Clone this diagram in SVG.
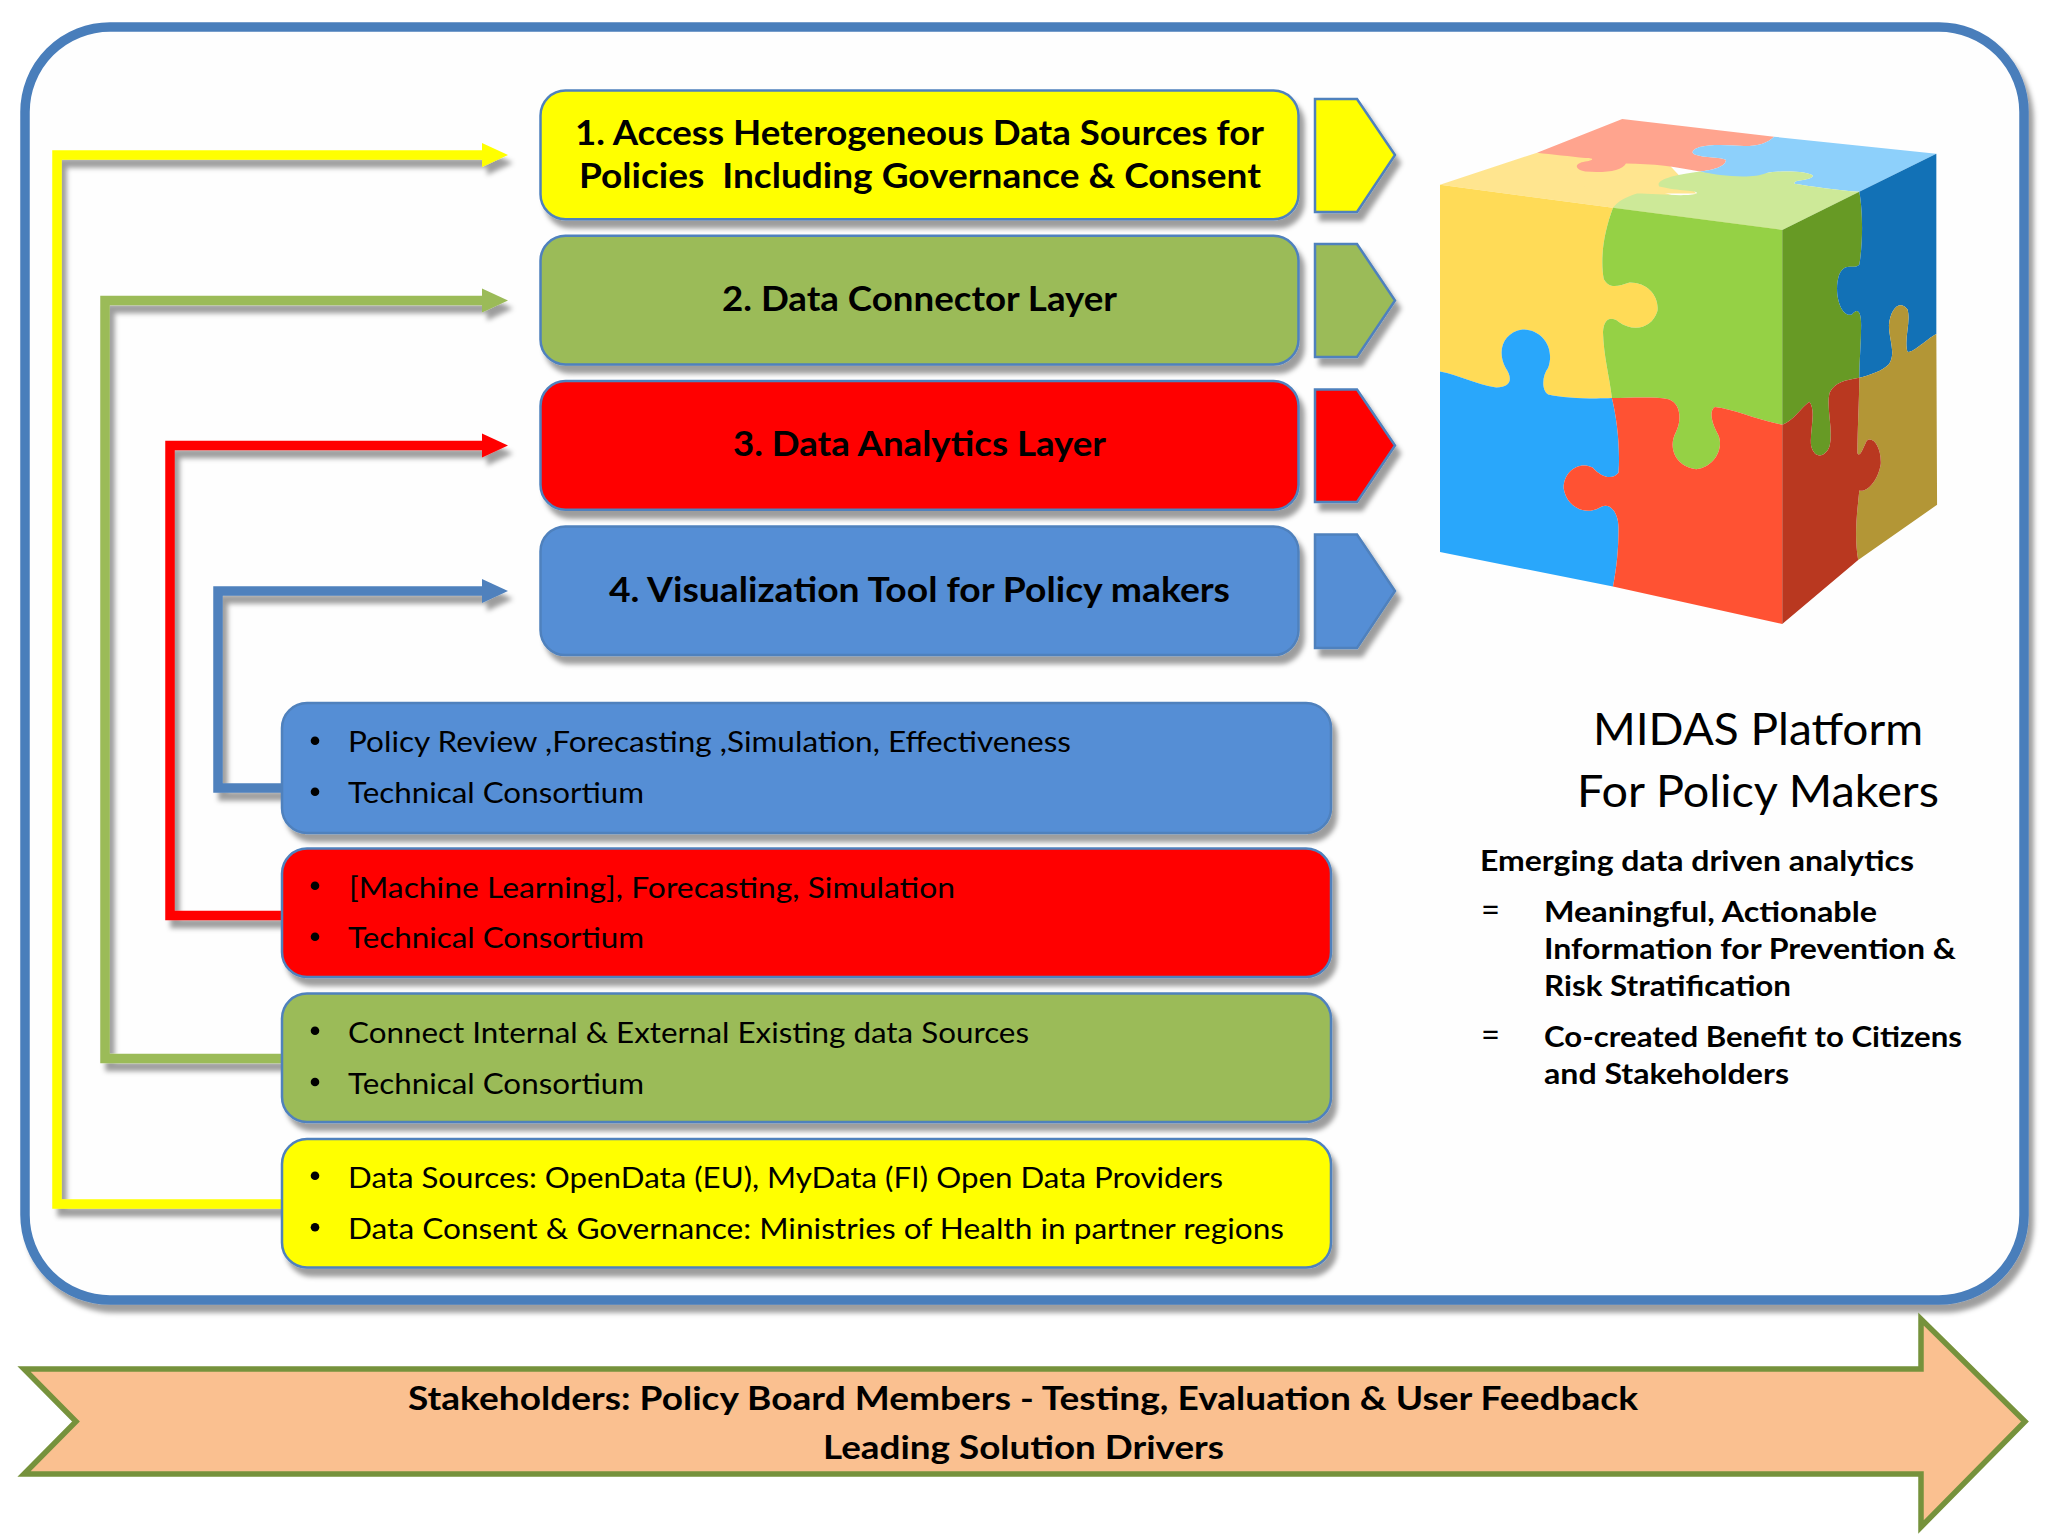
<svg xmlns="http://www.w3.org/2000/svg" width="2048" height="1536" viewBox="0 0 2048 1536">
<style>
text{font-family:"Lato","Carlito","Liberation Sans",sans-serif;fill:#000;white-space:pre}
.h{font-weight:700;font-size:34px}
.b{font-size:29px}
.r{font-weight:700;font-size:28px}
.e{font-size:34px}
.t{font-size:45px}
.s{font-weight:700;font-size:33px}
.box{stroke:#4f81bd;stroke-width:2.5;filter:url(#sh)}
.chev{stroke:#4f81bd;stroke-width:2.5;filter:url(#sh)}
.conn{fill:none;stroke-width:9.5;stroke-linejoin:miter;filter:url(#sh)}
.y{fill:#ffff00}.g{fill:#9bbb59}.rd{fill:#ff0000}.bl{fill:#558ed5}
</style>
<defs>
<filter id="sh" filterUnits="userSpaceOnUse" x="0" y="0" width="2048" height="1536"><feDropShadow dx="5" dy="8" stdDeviation="2.5" flood-color="#000" flood-opacity=".38"/></filter>
<marker id="ay" markerUnits="userSpaceOnUse" markerWidth="26" markerHeight="26" refX="0" refY="13" orient="auto"><path d="M0,1 L26,13 L0,25Z" fill="#ffff00"/></marker>
<marker id="ag" markerUnits="userSpaceOnUse" markerWidth="26" markerHeight="26" refX="0" refY="13" orient="auto"><path d="M0,1 L26,13 L0,25Z" fill="#9bbb59"/></marker>
<marker id="ar" markerUnits="userSpaceOnUse" markerWidth="26" markerHeight="26" refX="0" refY="13" orient="auto"><path d="M0,1 L26,13 L0,25Z" fill="#ff0000"/></marker>
<marker id="ab" markerUnits="userSpaceOnUse" markerWidth="26" markerHeight="26" refX="0" refY="13" orient="auto"><path d="M0,1 L26,13 L0,25Z" fill="#4f81bd"/></marker>
</defs>
<rect width="2048" height="1536" fill="#fff"/>
<g id="frame"><rect x="25" y="27" width="1999" height="1273" rx="85" fill="#fefefe" stroke="#4a7ebb" stroke-width="9.5" filter="url(#sh)"/></g>
<g id="connectors">
<path class="conn" stroke="#ffff00" marker-end="url(#ay)" d="M285,1204 H57 V155 H482"/>
<path class="conn" stroke="#9bbb59" marker-end="url(#ag)" d="M285,1058.5 H105 V300.5 H482"/>
<path class="conn" stroke="#ff0000" marker-end="url(#ar)" d="M285,915.5 H170 V445.5 H482"/>
<path class="conn" stroke="#4f81bd" marker-end="url(#ab)" d="M285,788 H218 V591 H482"/>
</g>
<g id="layer1"><rect class="box y" x="540.5" y="90.5" width="758" height="128.7" rx="25"/>
<text class="h" x="575" y="144.5" textLength="689" lengthAdjust="spacingAndGlyphs">1. Access Heterogeneous Data Sources for</text>
<text class="h" x="579" y="187.5" textLength="682" lengthAdjust="spacingAndGlyphs">Policies  Including Governance &amp; Consent</text></g>
<g id="layer2"><rect class="box g" x="540.5" y="235.8" width="758" height="128.7" rx="25"/>
<text class="h" x="722" y="311" textLength="395" lengthAdjust="spacingAndGlyphs">2. Data Connector Layer</text></g>
<g id="layer3"><rect class="box rd" x="540.5" y="381" width="758" height="128.7" rx="25"/>
<text class="h" x="733" y="456" textLength="373" lengthAdjust="spacingAndGlyphs">3. Data Analytics Layer</text></g>
<g id="layer4"><rect class="box bl" x="540.5" y="526.4" width="758" height="128.7" rx="25"/>
<text class="h" x="609" y="601.5" textLength="621" lengthAdjust="spacingAndGlyphs">4. Visualization Tool for Policy makers</text></g>
<g id="chevron1"><path class="chev y" d="M1315,99 H1357 L1395,155 L1357,212 H1315Z"/></g>
<g id="chevron2"><path class="chev g" d="M1315,244 H1357 L1395,300.5 L1357,357 H1315Z"/></g>
<g id="chevron3"><path class="chev rd" d="M1315,389.5 H1357 L1395,445.5 L1357,502 H1315Z"/></g>
<g id="chevron4"><path class="chev bl" d="M1315,534.5 H1357 L1395,591 L1357,648 H1315Z"/></g>
<g id="cube" transform="translate(1400 90.5) scale(.3704 .3556)">
<path fill="#ffe58f" d="M108,265 L370,175 L1032,392 L575,330Z"/>
<path fill="#ffe58f" d="M370,175 L700,180 L800,290 L640,290 L575,330Z"/>
<path fill="#ffa48e" d="M370,175 L600,80 L1010,130 C990,150 960,160 900,155 C850,150 790,155 790,175 C800,190 860,185 880,195 C880,215 840,225 810,228 C750,215 680,205 610,205 C600,225 560,232 500,228 C470,222 470,205 500,200 C530,195 520,190 500,190 C460,185 410,180 370,175Z"/>
<path fill="#8dd0fb" d="M1010,130 L1448,178 L1240,285 C1180,280 1110,270 1065,262 C1060,250 1110,255 1115,240 C1105,225 1020,225 990,232 C980,250 950,250 900,245 C860,240 830,235 810,228 C840,225 880,215 880,195 C860,185 800,190 790,175 C790,155 850,150 900,155 C960,160 990,150 1010,130Z"/>
<path fill="#cde998" d="M575,330 C590,310 610,300 640,290 C680,290 780,300 800,290 C810,280 760,285 700,270 C690,255 720,240 810,228 C860,240 950,250 990,232 C1020,225 1105,225 1115,240 C1110,255 1060,250 1065,262 C1110,270 1180,280 1240,285 L1032,392Z"/>
<path fill="#ffdb57" d="M108,265 L575,330 C550,400 540,470 550,530 C565,560 590,550 620,540 C670,540 700,580 695,620 C680,670 630,680 590,650 C570,635 550,640 548,680 C550,750 565,800 572,865 C520,868 440,865 400,855 C380,840 385,800 400,780 C420,720 380,670 330,672 C280,680 260,730 285,780 C305,810 300,835 260,835 C200,825 160,800 108,790Z"/>
<path fill="#29a7fb" d="M108,790 C160,800 200,825 260,835 C300,835 305,810 285,780 C260,730 280,680 330,672 C380,670 420,720 400,780 C385,800 380,840 400,855 C440,865 520,868 572,865 C585,920 595,1000 590,1075 C575,1095 545,1090 520,1060 C480,1040 440,1075 442,1120 C450,1170 500,1200 545,1170 C570,1160 590,1190 590,1230 C590,1290 585,1340 575,1395 L108,1298Z"/>
<path fill="#95d145" d="M575,330 L1032,392 L1032,940 C960,925 900,895 850,890 C835,900 840,930 855,960 C880,1000 850,1060 800,1065 C750,1060 720,1010 745,960 C760,930 760,880 725,868 C680,860 620,865 572,865 C565,800 550,750 548,680 C550,640 570,635 590,650 C630,680 680,670 695,620 C700,580 670,540 620,540 C590,550 565,560 550,530 C540,470 550,400 575,330Z"/>
<path fill="#ff5233" d="M572,865 C620,865 680,860 725,868 C760,880 760,930 745,960 C720,1010 750,1060 800,1065 C850,1060 880,1000 855,960 C840,930 835,900 850,890 C900,895 960,925 1032,940 L1032,1500 L575,1395 C585,1340 590,1290 590,1230 C590,1190 570,1160 545,1170 C500,1200 450,1170 442,1120 C440,1075 480,1040 520,1060 C545,1090 575,1095 590,1075 C595,1000 585,920 572,865Z"/>
<path fill="#679a25" d="M1032,392 L1240,285 C1250,340 1250,430 1240,490 C1225,505 1200,480 1185,520 C1170,570 1190,640 1220,630 C1235,610 1245,620 1245,660 C1245,710 1240,760 1240,808 C1200,815 1175,820 1160,850 C1150,890 1170,950 1160,1000 C1150,1030 1120,1040 1110,1000 C1105,960 1125,900 1105,875 C1085,890 1060,930 1032,940Z"/>
<path fill="#1271b6" d="M1240,285 L1448,178 L1448,685 C1420,700 1385,740 1370,735 C1360,700 1380,650 1370,615 C1350,590 1325,610 1320,660 C1320,700 1340,740 1320,770 C1300,790 1270,800 1240,808 C1240,760 1245,710 1245,660 C1245,620 1235,610 1220,630 C1190,640 1170,570 1185,520 C1200,480 1225,505 1240,490 C1250,430 1250,340 1240,285Z"/>
<path fill="#b39636" d="M1448,685 L1450,1165 L1237,1320 C1225,1250 1235,1180 1240,1125 C1260,1130 1290,1100 1298,1050 C1300,1000 1275,970 1260,985 C1245,1020 1240,1030 1235,1020 C1235,950 1240,870 1240,808 C1270,800 1300,790 1320,770 C1340,740 1320,700 1320,660 C1325,610 1350,590 1370,615 C1380,650 1360,700 1370,735 C1385,740 1420,700 1448,685Z"/>
<path fill="#b93820" d="M1032,940 C1060,930 1085,890 1105,875 C1125,900 1105,960 1110,1000 C1120,1040 1150,1030 1160,1000 C1170,950 1150,890 1160,850 C1175,820 1200,815 1240,808 C1240,870 1235,950 1235,1020 C1240,1030 1245,1020 1260,985 C1275,970 1300,1000 1298,1050 C1290,1100 1260,1130 1240,1125 C1235,1180 1225,1250 1237,1320 L1032,1500Z"/>
</g>
<g id="panel-visualization"><rect class="box bl" x="282" y="703" width="1049" height="130" rx="25"/>
<circle cx="315" cy="740.7" r="4.3"/><circle cx="315" cy="791.7" r="4.3"/>
<text class="b" x="348" y="752" textLength="723" lengthAdjust="spacingAndGlyphs">Policy Review ,Forecasting ,Simulation, Effectiveness</text>
<text class="b" x="348" y="803" textLength="296" lengthAdjust="spacingAndGlyphs">Technical Consortium</text></g>
<g id="panel-analytics"><rect class="box rd" x="282" y="848.5" width="1049" height="128.5" rx="25"/>
<circle cx="315" cy="885.7" r="4.3"/><circle cx="315" cy="936.7" r="4.3"/>
<text class="b" x="349" y="897.5" textLength="606" lengthAdjust="spacingAndGlyphs">[Machine Learning], Forecasting, Simulation</text>
<text class="b" x="348" y="948" textLength="296" lengthAdjust="spacingAndGlyphs">Technical Consortium</text></g>
<g id="panel-connector"><rect class="box g" x="282" y="993.5" width="1049" height="128.5" rx="25"/>
<circle cx="315" cy="1030.7" r="4.3"/><circle cx="315" cy="1082" r="4.3"/>
<text class="b" x="348" y="1042.5" textLength="681" lengthAdjust="spacingAndGlyphs">Connect Internal &amp; External Existing data Sources</text>
<text class="b" x="348" y="1093.5" textLength="296" lengthAdjust="spacingAndGlyphs">Technical Consortium</text></g>
<g id="panel-sources"><rect class="box y" x="282" y="1139" width="1049" height="128.5" rx="25"/>
<circle cx="315" cy="1175.7" r="4.3"/><circle cx="315" cy="1227.3" r="4.3"/>
<text class="b" x="348" y="1187.5" textLength="875" lengthAdjust="spacingAndGlyphs">Data Sources: OpenData (EU), MyData (FI) Open Data Providers</text>
<text class="b" x="348" y="1238.5" textLength="936" lengthAdjust="spacingAndGlyphs">Data Consent &amp; Governance: Ministries of Health in partner regions</text></g>
<g id="platform-text">
<text class="t" x="1593" y="745" textLength="330" lengthAdjust="spacingAndGlyphs">MIDAS Platform</text>
<text class="t" x="1577" y="807" textLength="362" lengthAdjust="spacingAndGlyphs">For Policy Makers</text>
<text class="r" x="1480" y="870.5" textLength="434" lengthAdjust="spacingAndGlyphs">Emerging data driven analytics</text>
<text class="e" x="1481" y="921.5" textLength="19" lengthAdjust="spacingAndGlyphs">=</text>
<text class="r" x="1544" y="921.5" textLength="333" lengthAdjust="spacingAndGlyphs">Meaningful, Actionable</text>
<text class="r" x="1544" y="958.5" textLength="412" lengthAdjust="spacingAndGlyphs">Information for Prevention &amp;</text>
<text class="r" x="1544" y="995.5" textLength="247" lengthAdjust="spacingAndGlyphs">Risk Stratification</text>
<text class="e" x="1481" y="1046.5" textLength="19" lengthAdjust="spacingAndGlyphs">=</text>
<text class="r" x="1544" y="1047" textLength="418" lengthAdjust="spacingAndGlyphs">Co-created Benefit to Citizens</text>
<text class="r" x="1544" y="1084" textLength="245" lengthAdjust="spacingAndGlyphs">and Stakeholders</text>
</g>
<g id="stakeholders-arrow">
<path fill="#fac090" stroke="#76923c" stroke-width="5.5" stroke-miterlimit="10" d="M24,1369 H1921 V1319 L2025,1421.5 L1921,1527 V1474 H24 L76,1421.5Z"/>
<text class="s" x="408" y="1409.5" textLength="1230" lengthAdjust="spacingAndGlyphs">Stakeholders: Policy Board Members - Testing, Evaluation &amp; User Feedback</text>
<text class="s" x="823" y="1458.5" textLength="401" lengthAdjust="spacingAndGlyphs">Leading Solution Drivers</text>
</g>
</svg>
